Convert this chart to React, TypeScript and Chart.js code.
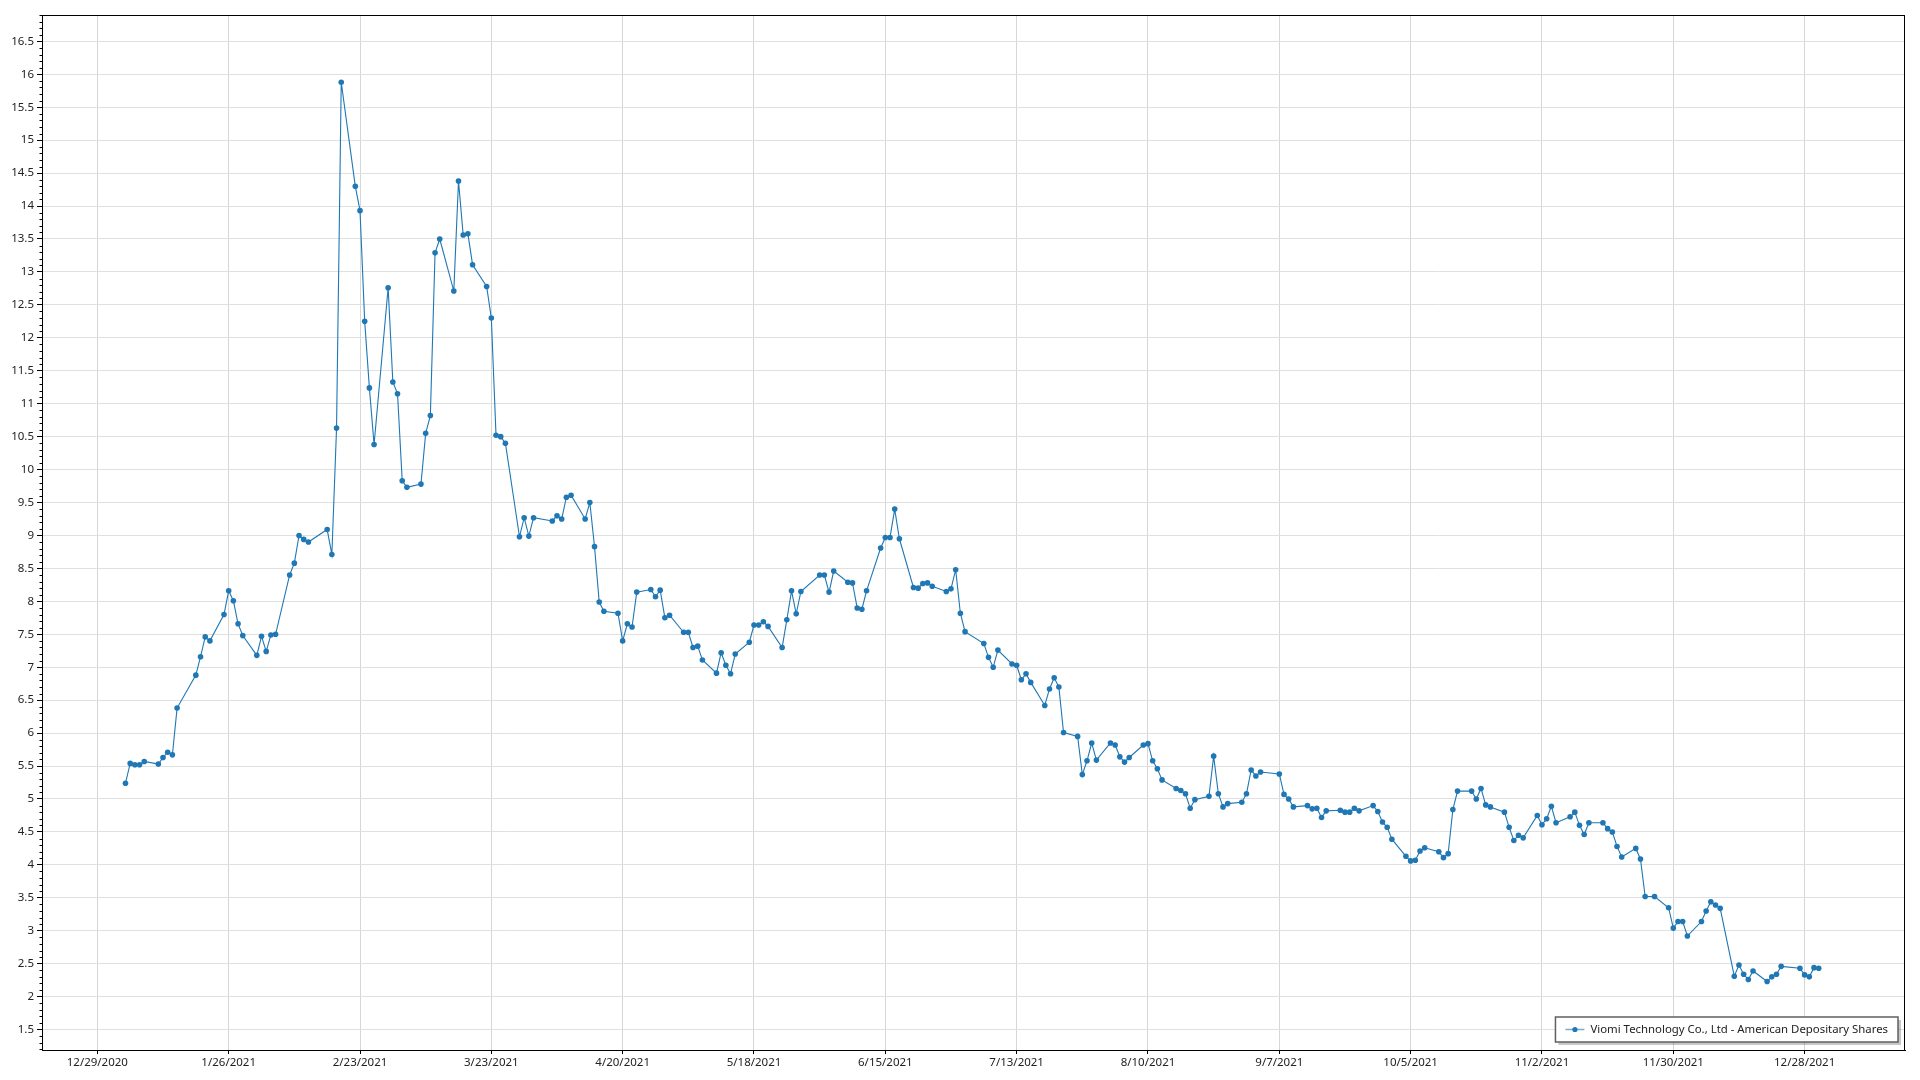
import React, { useEffect, useRef } from "react";
import { Chart, registerables } from "chart.js";

Chart.register(...registerables);

const seriesLabel = "Viomi Technology Co., Ltd - American Depositary Shares";

const tradeDates: string[] = [
  "2021-01-04","2021-01-05","2021-01-06","2021-01-07","2021-01-08","2021-01-11","2021-01-12","2021-01-13","2021-01-14","2021-01-15","2021-01-19","2021-01-20","2021-01-21","2021-01-22","2021-01-25","2021-01-26","2021-01-27","2021-01-28","2021-01-29",
  "2021-02-01","2021-02-02","2021-02-03","2021-02-04","2021-02-05","2021-02-08","2021-02-09","2021-02-10","2021-02-11","2021-02-12","2021-02-16","2021-02-17","2021-02-18","2021-02-19","2021-02-22","2021-02-23","2021-02-24","2021-02-25","2021-02-26",
  "2021-03-01","2021-03-02","2021-03-03","2021-03-04","2021-03-05","2021-03-08","2021-03-09","2021-03-10","2021-03-11","2021-03-12","2021-03-15","2021-03-16","2021-03-17","2021-03-18","2021-03-19","2021-03-22","2021-03-23","2021-03-24","2021-03-25","2021-03-26","2021-03-29","2021-03-30","2021-03-31",
  "2021-04-01","2021-04-05","2021-04-06","2021-04-07","2021-04-08","2021-04-09","2021-04-12","2021-04-13","2021-04-14","2021-04-15","2021-04-16","2021-04-19","2021-04-20","2021-04-21","2021-04-22","2021-04-23","2021-04-26","2021-04-27","2021-04-28","2021-04-29","2021-04-30",
  "2021-05-03","2021-05-04","2021-05-05","2021-05-06","2021-05-07","2021-05-10","2021-05-11","2021-05-12","2021-05-13","2021-05-14","2021-05-17","2021-05-18","2021-05-19","2021-05-20","2021-05-21","2021-05-24","2021-05-25","2021-05-26","2021-05-27","2021-05-28",
  "2021-06-01","2021-06-02","2021-06-03","2021-06-04","2021-06-07","2021-06-08","2021-06-09","2021-06-10","2021-06-11","2021-06-14","2021-06-15","2021-06-16","2021-06-17","2021-06-18","2021-06-21","2021-06-22","2021-06-23","2021-06-24","2021-06-25","2021-06-28","2021-06-29","2021-06-30",
  "2021-07-01","2021-07-02","2021-07-06","2021-07-07","2021-07-08","2021-07-09","2021-07-12","2021-07-13","2021-07-14","2021-07-15","2021-07-16","2021-07-19","2021-07-20","2021-07-21","2021-07-22","2021-07-23","2021-07-26","2021-07-27","2021-07-28","2021-07-29","2021-07-30",
  "2021-08-02","2021-08-03","2021-08-04","2021-08-05","2021-08-06","2021-08-09","2021-08-10","2021-08-11","2021-08-12","2021-08-13","2021-08-16","2021-08-17","2021-08-18","2021-08-19","2021-08-20","2021-08-23","2021-08-24","2021-08-25","2021-08-26","2021-08-27","2021-08-30","2021-08-31",
  "2021-09-01","2021-09-02","2021-09-03","2021-09-07","2021-09-08","2021-09-09","2021-09-10","2021-09-13","2021-09-14","2021-09-15","2021-09-16","2021-09-17","2021-09-20","2021-09-21","2021-09-22","2021-09-23","2021-09-24","2021-09-27","2021-09-28","2021-09-29","2021-09-30",
  "2021-10-01","2021-10-04","2021-10-05","2021-10-06","2021-10-07","2021-10-08","2021-10-11","2021-10-12","2021-10-13","2021-10-14","2021-10-15","2021-10-18","2021-10-19","2021-10-20","2021-10-21","2021-10-22","2021-10-25","2021-10-26","2021-10-27","2021-10-28","2021-10-29",
  "2021-11-01","2021-11-02","2021-11-03","2021-11-04","2021-11-05","2021-11-08","2021-11-09","2021-11-10","2021-11-11","2021-11-12","2021-11-15","2021-11-16","2021-11-17","2021-11-18","2021-11-19","2021-11-22","2021-11-23","2021-11-24","2021-11-26","2021-11-29","2021-11-30",
  "2021-12-01","2021-12-02","2021-12-03","2021-12-06","2021-12-07","2021-12-08","2021-12-09","2021-12-10","2021-12-13","2021-12-14","2021-12-15","2021-12-16","2021-12-17","2021-12-20","2021-12-21","2021-12-22","2021-12-23","2021-12-27","2021-12-28","2021-12-29","2021-12-30","2021-12-31",
];

const closePrices: number[] = [
  5.24,5.54,5.52,5.52,5.57,5.53,5.63,5.71,5.67,6.38,6.88,7.16,7.46,7.40,7.80,8.16,8.01,7.66,7.48,
  7.18,7.47,7.24,7.49,7.50,8.40,8.58,9.00,8.94,8.90,9.09,8.71,10.63,15.88,14.30,13.93,12.25,11.24,10.38,
  12.76,11.33,11.15,9.83,9.73,9.78,10.55,10.82,13.29,13.50,12.71,14.38,13.56,13.58,13.11,12.78,12.30,10.52,10.50,10.40,8.98,9.27,8.99,
  9.27,9.22,9.30,9.25,9.58,9.61,9.25,9.50,8.83,7.99,7.85,7.82,7.40,7.66,7.61,8.14,8.18,8.07,8.17,7.75,7.79,
  7.53,7.53,7.30,7.32,7.11,6.91,7.22,7.03,6.90,7.20,7.38,7.64,7.64,7.69,7.62,7.30,7.72,8.16,7.81,8.15,
  8.40,8.40,8.14,8.46,8.29,8.28,7.90,7.88,8.16,8.81,8.97,8.97,9.40,8.95,8.21,8.20,8.27,8.28,8.23,8.15,8.19,8.48,
  7.82,7.54,7.36,7.15,7.00,7.26,7.05,7.03,6.81,6.90,6.77,6.42,6.67,6.84,6.70,6.01,5.95,5.37,5.58,5.85,5.59,
  5.85,5.82,5.64,5.56,5.63,5.82,5.84,5.58,5.46,5.29,5.16,5.13,5.08,4.86,4.99,5.04,5.65,5.08,4.88,4.93,4.95,5.08,
  5.44,5.35,5.41,5.38,5.07,5.00,4.88,4.90,4.85,4.86,4.72,4.82,4.83,4.80,4.80,4.86,4.82,4.90,4.81,4.65,4.57,
  4.39,4.13,4.06,4.07,4.21,4.26,4.20,4.11,4.17,4.84,5.12,5.12,5.00,5.16,4.91,4.88,4.80,4.57,4.37,4.45,4.41,
  4.75,4.61,4.70,4.89,4.64,4.73,4.80,4.60,4.46,4.64,4.64,4.55,4.50,4.28,4.12,4.25,4.09,3.52,3.52,3.35,3.04,
  3.14,3.14,2.92,3.14,3.30,3.44,3.39,3.34,2.31,2.48,2.34,2.26,2.39,2.23,2.30,2.34,2.46,2.43,2.33,2.30,2.44,2.43,
];

const xTickLabels: string[] = [
  "12/29/2020","1/26/2021","2/23/2021","3/23/2021","4/20/2021","5/18/2021","6/15/2021",
  "7/13/2021","8/10/2021","9/7/2021","10/5/2021","11/2/2021","11/30/2021","12/28/2021",
];

const yTickValues: number[] = [
  1.5,2,2.5,3,3.5,4,4.5,5,5.5,6,6.5,7,7.5,8,8.5,9,9.5,10,10.5,11,11.5,12,12.5,13,13.5,14,14.5,15,15.5,16,16.5,
];

const yRange = { min: 1.19, max: 16.9 };

const isoToDay = (s: string) => {
  const [y, m, d] = s.split("-").map(Number);
  return Date.UTC(y, m - 1, d) / 86400000;
};
const mdyToDay = (s: string) => {
  const [m, d, y] = s.split("/").map(Number);
  return Date.UTC(y, m - 1, d) / 86400000;
};
const dayToMdy = (v: number) => {
  const dt = new Date(Math.round(v) * 86400000);
  return `${dt.getUTCMonth() + 1}/${dt.getUTCDate()}/${dt.getUTCFullYear()}`;
};

const LINE_COLOR = "#1f77b4";
const FONT_FAMILY = '"Noto Sans", "Open Sans", sans-serif';

export default function App() {
  const canvasRef = useRef<HTMLCanvasElement | null>(null);

  useEffect(() => {
    document.body.style.margin = "0";
    document.body.style.overflow = "hidden";
    const canvas = canvasRef.current;
    if (!canvas) return;

    const baseDay = mdyToDay(xTickLabels[0]);
    const xMin = baseDay - 11.8;
    const xMax = baseDay + 385.4;
    const xTicks = xTickLabels.map(mdyToDay);

    const points = tradeDates.map((d, i) => ({ x: isoToDay(d), y: closePrices[i] }));

    const framePlugin = {
      id: "frameAndLegend",
      afterDraw(chart: any) {
        const { ctx, chartArea } = chart;
        const { left, top, right, bottom } = chartArea;
        ctx.save();
        // frame
        ctx.strokeStyle = "#000";
        ctx.lineWidth = 1;
        ctx.strokeRect(Math.round(left) + 0.5, Math.round(top) + 0.5, Math.round(right - left) - 1, Math.round(bottom - top));
        // minor y ticks
        const ys = chart.scales.y;
        ctx.beginPath();
        for (let i = Math.ceil(yRange.min * 10); i <= Math.floor(yRange.max * 10); i++) {
          if (i % 5 === 0) continue;
          const py = Math.round(ys.getPixelForValue(i / 10)) + 0.5;
          ctx.moveTo(left - 2.5, py);
          ctx.lineTo(left, py);
        }
        ctx.strokeStyle = "#000";
        ctx.stroke();

        // legend
        ctx.font = `12px ${FONT_FAMILY}`;
        const w12 = ctx.measureText(seriesLabel).width;
        const fontSize = (12 * 298) / w12;
        ctx.font = `${fontSize.toFixed(2)}px ${FONT_FAMILY}`;
        const tw = ctx.measureText(seriesLabel).width;
        const boxRight = 1898;
        const boxTop = 1017;
        const boxH = 25;
        const boxW = tw + 45;
        const boxLeft = boxRight - boxW;
        ctx.fillStyle = "rgba(0,0,0,0.22)";
        ctx.fillRect(boxLeft + 3, boxTop + 3, boxW, boxH);
        ctx.fillStyle = "#fff";
        ctx.fillRect(boxLeft, boxTop, boxW, boxH);
        ctx.strokeStyle = "#606060";
        ctx.lineWidth = 1.5;
        ctx.strokeRect(boxLeft, boxTop, boxW, boxH);
        const my = boxTop + boxH / 2;
        ctx.strokeStyle = "rgba(31,119,180,0.6)";
        ctx.lineWidth = 1.5;
        ctx.beginPath();
        ctx.moveTo(boxLeft + 10, my);
        ctx.lineTo(boxLeft + 29, my);
        ctx.stroke();
        ctx.fillStyle = LINE_COLOR;
        ctx.beginPath();
        ctx.arc(boxLeft + 19.5, my, 2.6, 0, Math.PI * 2);
        ctx.fill();
        ctx.fillStyle = "#222";
        ctx.textBaseline = "middle";
        ctx.textAlign = "left";
        ctx.fillText(seriesLabel, boxLeft + 35, my + 0.5);
        ctx.restore();
      },
    };

    const chart = new Chart(canvas, {
      type: "line",
      data: {
        datasets: [
          {
            label: seriesLabel,
            data: points,
            borderColor: LINE_COLOR,
            backgroundColor: LINE_COLOR,
            borderWidth: 1.1,
            pointRadius: 2.8,
            pointBorderWidth: 0,
            pointBackgroundColor: LINE_COLOR,
            tension: 0,
            fill: false,
          },
        ],
      },
      options: {
        animation: false,
        responsive: false,
        maintainAspectRatio: false,
        devicePixelRatio: 1,
        layout: { padding: { top: 15, right: 15, left: 0, bottom: 0 } },
        plugins: { legend: { display: false }, tooltip: { enabled: false } },
        scales: {
          x: {
            type: "linear",
            min: xMin,
            max: xMax,
            afterBuildTicks: (axis: any) => {
              axis.ticks = xTicks.map((v) => ({ value: v }));
            },
            afterFit: (axis: any) => {
              axis.height = 30;
            },
            ticks: {
              autoSkip: false,
              maxRotation: 0,
              minRotation: 0,
              padding: 2,
              color: "#222",
              font: { family: FONT_FAMILY, size: 11.5 },
              callback: (v: any) => dayToMdy(Number(v)),
            },
            grid: { color: "#d6d6d6", tickColor: "#000", tickLength: 4, lineWidth: 1 },
            border: { display: true, color: "#000", width: 1 },
          },
          y: {
            type: "linear",
            min: yRange.min,
            max: yRange.max,
            afterBuildTicks: (axis: any) => {
              axis.ticks = yTickValues.map((v) => ({ value: v }));
            },
            afterFit: (axis: any) => {
              axis.width = 42;
            },
            ticks: {
              padding: 3,
              color: "#222",
              font: { family: FONT_FAMILY, size: 11.5 },
              callback: (v: any) => String(Number(v)),
            },
            grid: { color: "#e0e0e0", tickColor: "#000", tickLength: 5, lineWidth: 1 },
            border: { display: true, color: "#000", width: 1 },
          },
        },
      },
      plugins: [framePlugin],
    } as any);

    return () => chart.destroy();
  }, []);

  return (
    <div style={{ width: 1920, height: 1080, background: "#fff" }}>
      <canvas ref={canvasRef} width={1920} height={1080} style={{ display: "block" }} />
    </div>
  );
}
